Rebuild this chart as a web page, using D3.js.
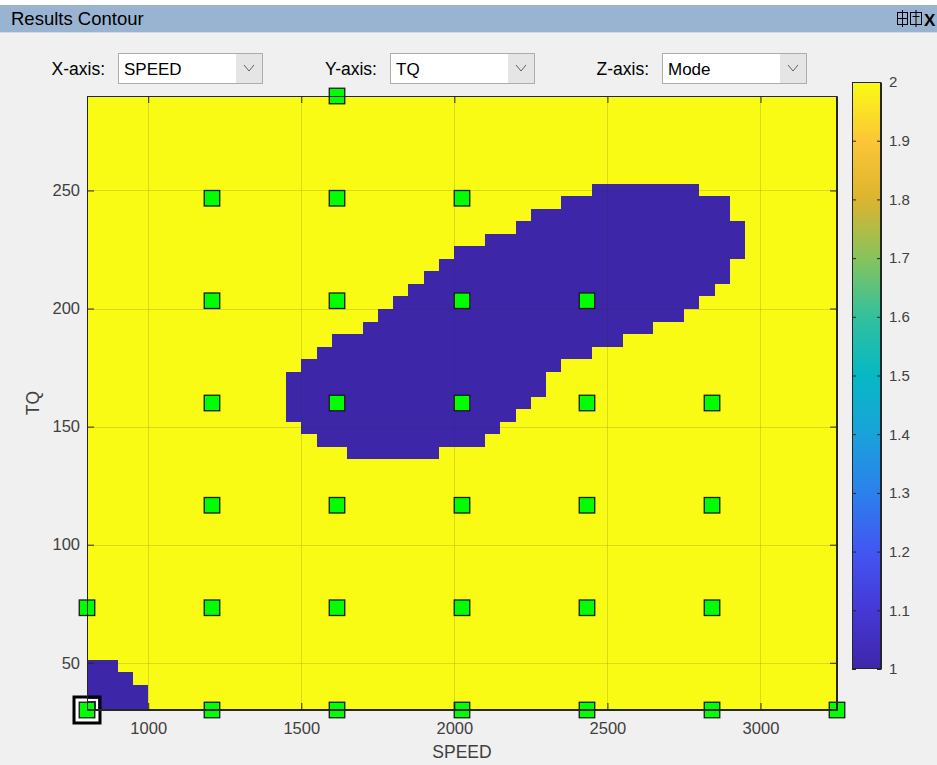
<!DOCTYPE html>
<html>
<head>
<meta charset="utf-8">
<script src="https://cdn.jsdelivr.net/npm/d3@7"></script>
<style>
  body { margin: 0; background: #f0f0f0; }
  svg text { font-family: "Liberation Sans", Arial, sans-serif; }
</style>
</head>
<body>
<svg id="fig" width="937" height="765"></svg>
<script>
// --- data -------------------------------------------------------------
// interpolation grid: 50 x 50 points from (800,30) to (3250,290) -> 49 x 49 cells
var speedRange = [800, 3250];
var tqRange = [30, 290];
var nCells = 49;

// cells where Mode == 1, everything else is Mode == 2
// [column, first row, row after the last one]
var modeOneRuns = [
  [0, 0, 4], [1, 0, 4], [2, 0, 3], [3, 0, 2],
  [13, 23, 27], [14, 22, 28], [15, 21, 29], [16, 21, 30], [17, 20, 30],
  [18, 20, 31], [19, 20, 32], [20, 20, 33], [21, 20, 34], [22, 20, 35],
  [23, 21, 36], [24, 21, 37], [25, 21, 37], [26, 22, 38], [27, 23, 38],
  [28, 24, 39], [29, 25, 40], [30, 27, 40], [31, 28, 41], [32, 28, 41],
  [33, 29, 42], [34, 29, 42], [35, 30, 42], [36, 30, 42], [37, 31, 42],
  [38, 31, 42], [39, 32, 42], [40, 33, 41], [41, 34, 41], [42, 36, 39]
];

// measured test points [SPEED, TQ]
var testPoints = [
  [1616.7, 290],
  [1208.3, 246.7], [1616.7, 246.7], [2025, 246.7],
  [1208.3, 203.3], [1616.7, 203.3], [2025, 203.3], [2433.3, 203.3],
  [1208.3, 160], [1616.7, 160], [2025, 160], [2433.3, 160], [2841.7, 160],
  [1208.3, 116.7], [1616.7, 116.7], [2025, 116.7], [2433.3, 116.7], [2841.7, 116.7],
  [800, 73.3], [1208.3, 73.3], [1616.7, 73.3], [2025, 73.3], [2433.3, 73.3], [2841.7, 73.3],
  [800, 30], [1208.3, 30], [1616.7, 30], [2025, 30], [2433.3, 30], [2841.7, 30], [3250, 30]
];
var selectedPoint = [800, 30];

var xTicks = [1000, 1500, 2000, 2500, 3000];
var yTicks = [50, 100, 150, 200, 250];
var cTicks = [1, 1.1, 1.2, 1.3, 1.4, 1.5, 1.6, 1.7, 1.8, 1.9, 2];
var modeRange = [1, 2];

// parula, sampled along the colorbar
var parula = ["#3e26a8", "#4538d6", "#4256f2", "#2c80ec", "#1aa2da", "#06b8c4",
              "#33c09d", "#86c45c", "#dcb42f", "#fcc637", "#f9fb15"];

var combos = [
  { label: "X-axis:", value: "SPEED" },
  { label: "Y-axis:", value: "TQ" },
  { label: "Z-axis:", value: "Mode" }
];

// --- layout -----------------------------------------------------------
var W = 937, H = 765;
var plot = { left: 87, right: 837, top: 96, bottom: 710 };
var cbar = { left: 852, right: 881, top: 82, bottom: 669 };
var axisCol = "#262626";
var tickFont = 16.5;

var svg = d3.select("#fig");

// window chrome
svg.append("rect").attr("width", W).attr("height", H).attr("fill", "#f0f0f0");
svg.append("rect").attr("width", W).attr("height", 5).attr("fill", "#ffffff");
svg.append("rect").attr("y", 5).attr("width", W).attr("height", 27).attr("fill", "#99b4d1");
svg.append("line").attr("x1", 0).attr("x2", W).attr("y1", 32.5).attr("y2", 32.5)
  .attr("stroke", "#d9d9d9");
svg.append("text").attr("x", 11).attr("y", 25).text("Results Contour")
  .style("font-size", "18.5px").attr("fill", "#000");

// dock / undock / close glyphs
var ic = svg.append("g").attr("fill", "none").attr("stroke", "#000").attr("stroke-width", 1);
ic.append("rect").attr("x", 897.5).attr("y", 12.5).attr("width", 10).attr("height", 12);
ic.append("line").attr("x1", 897.5).attr("x2", 907.5).attr("y1", 18.5).attr("y2", 18.5);
ic.append("line").attr("x1", 902.5).attr("x2", 902.5).attr("y1", 10).attr("y2", 27);
ic.append("rect").attr("x", 910.5).attr("y", 12.5).attr("width", 11).attr("height", 12);
ic.append("line").attr("x1", 916).attr("x2", 916).attr("y1", 10).attr("y2", 27);
ic.append("line").attr("x1", 912.5).attr("x2", 919.5).attr("y1", 16.5).attr("y2", 16.5);
svg.append("text").attr("x", 924).attr("y", 26).text("X")
  .style("font-size", "17px").style("font-weight", "bold").attr("fill", "#000");

// combo boxes
var comboX = [118, 390, 662];
combos.forEach(function (c, i) {
  var g = svg.append("g").attr("transform", "translate(" + comboX[i] + ",53)");
  g.append("text").attr("x", -13).attr("y", 22).attr("text-anchor", "end")
    .text(c.label).style("font-size", "17.5px").attr("fill", "#000");
  g.append("rect").attr("x", 0.5).attr("y", 0.5).attr("width", 144).attr("height", 30)
    .attr("fill", "#ffffff").attr("stroke", "#acacac");
  g.append("rect").attr("x", 118).attr("y", 1).attr("width", 26).attr("height", 29)
    .attr("fill", "#e5e5e5");
  g.append("text").attr("x", 6).attr("y", 22).text(c.value)
    .style("font-size", "17px").attr("fill", "#000");
  g.append("path").attr("d", "M126,12 L131,18 L136,12").attr("fill", "none")
    .attr("stroke", "#606060").attr("stroke-width", 1);
});

// --- scales -----------------------------------------------------------
var x = d3.scaleLinear().domain(speedRange).range([plot.left, plot.right]);
var y = d3.scaleLinear().domain(tqRange).range([plot.bottom, plot.top]);
var colX = d3.scaleLinear().domain([0, nCells]).range(speedRange);
var rowY = d3.scaleLinear().domain([0, nCells]).range(tqRange);
var colour = d3.scaleLinear()
  .domain(d3.range(parula.length).map(function (i) { return modeRange[0] + i / (parula.length - 1); }))
  .range(parula);

// --- field ------------------------------------------------------------
var field = svg.append("g").attr("shape-rendering", "crispEdges");
field.append("rect")
  .attr("x", x(speedRange[0])).attr("y", y(tqRange[1]))
  .attr("width", x(speedRange[1]) - x(speedRange[0]))
  .attr("height", y(tqRange[0]) - y(tqRange[1]))
  .attr("fill", colour(2));
field.selectAll("rect.cell").data(modeOneRuns).enter().append("rect")
  .attr("class", "cell")
  .attr("x", function (d) { return x(colX(d[0])); })
  .attr("width", function (d) { return x(colX(d[0] + 1)) - x(colX(d[0])); })
  .attr("y", function (d) { return y(rowY(d[2])); })
  .attr("height", function (d) { return y(rowY(d[1])) - y(rowY(d[2])); })
  .attr("fill", colour(1));

// --- points -----------------------------------------------------------
var ms = 15.5;
var sel = svg.append("g").attr("fill", "none");
sel.append("rect")
  .attr("x", x(selectedPoint[0]) - 13).attr("y", y(selectedPoint[1]) - 13)
  .attr("width", 26).attr("height", 26).attr("stroke", "#000").attr("stroke-width", 3);
sel.append("rect")
  .attr("x", x(selectedPoint[0]) - 10).attr("y", y(selectedPoint[1]) - 10)
  .attr("width", 20).attr("height", 20).attr("stroke", "#fff").attr("stroke-width", 2);

svg.append("g").selectAll("rect").data(testPoints).enter().append("rect")
  .attr("x", function (d) { return x(d[0]) - ms / 2; })
  .attr("y", function (d) { return y(d[1]) - ms / 2; })
  .attr("width", ms).attr("height", ms)
  .attr("fill", "#00ff00").attr("stroke", "#1a1a1a").attr("stroke-width", 1.3);

// --- grid + axes (drawn on top, like layer top) -----------------------
var gridG = svg.append("g").attr("stroke", axisCol).attr("stroke-opacity", 0.15);
gridG.selectAll("line.gx").data(xTicks).enter().append("line")
  .attr("x1", function (d) { return Math.round(x(d)) + 0.5; })
  .attr("x2", function (d) { return Math.round(x(d)) + 0.5; })
  .attr("y1", plot.top).attr("y2", plot.bottom);
gridG.selectAll("line.gy").data(yTicks).enter().append("line")
  .attr("y1", function (d) { return Math.round(y(d)) + 0.5; })
  .attr("y2", function (d) { return Math.round(y(d)) + 0.5; })
  .attr("x1", plot.left).attr("x2", plot.right);

function styleAxis(g, size) {
  g.selectAll("path").attr("stroke", axisCol);
  g.selectAll("line").attr("stroke", axisCol);
  g.selectAll("text").attr("fill", "#404040").style("font-size", size + "px")
    .style("font-family", "'Liberation Sans', Arial, sans-serif");
}

var tl = 7;
styleAxis(svg.append("g").attr("transform", "translate(0," + plot.bottom + ")")
  .call(d3.axisBottom(x).tickValues(xTicks).tickSize(-tl).tickSizeOuter(0).tickPadding(12)
    .tickFormat(d3.format("d"))), tickFont);
styleAxis(svg.append("g").attr("transform", "translate(0," + plot.top + ")")
  .call(d3.axisTop(x).tickValues(xTicks).tickSize(-tl).tickSizeOuter(0).tickFormat("")), tickFont);
styleAxis(svg.append("g").attr("transform", "translate(" + plot.left + ",0)")
  .call(d3.axisLeft(y).tickValues(yTicks).tickSize(-tl).tickSizeOuter(0).tickPadding(7)
    .tickFormat(d3.format("d"))), tickFont);
styleAxis(svg.append("g").attr("transform", "translate(" + plot.right + ",0)")
  .call(d3.axisRight(y).tickValues(yTicks).tickSize(-tl).tickSizeOuter(0).tickFormat("")), tickFont);

svg.append("text").attr("x", (plot.left + plot.right) / 2).attr("y", 758)
  .attr("text-anchor", "middle").text("SPEED").style("font-size", "17.5px").attr("fill", "#404040");
svg.append("text").attr("transform", "translate(39," + (plot.top + plot.bottom) / 2 + ") rotate(-90)")
  .attr("text-anchor", "middle").text("TQ").style("font-size", "17.5px").attr("fill", "#404040");

// --- colorbar ---------------------------------------------------------
var cy = d3.scaleLinear().domain(modeRange).range([cbar.bottom, cbar.top]);
var grad = svg.append("defs").append("linearGradient").attr("id", "parula")
  .attr("x1", 0).attr("x2", 0).attr("y1", 1).attr("y2", 0);
grad.selectAll("stop").data(parula).enter().append("stop")
  .attr("offset", function (d, i) { return i / (parula.length - 1); })
  .attr("stop-color", function (d) { return d; });
svg.append("rect").attr("x", cbar.left).attr("y", cbar.top)
  .attr("width", cbar.right - cbar.left).attr("height", cbar.bottom - cbar.top)
  .attr("fill", "url(#parula)");
var ct = 4;
styleAxis(svg.append("g").attr("transform", "translate(" + cbar.right + ",0)")
  .call(d3.axisRight(cy).tickValues(cTicks).tickSize(-ct).tickSizeOuter(0).tickPadding(8)
    .tickFormat(d3.format("~g"))), 15);
styleAxis(svg.append("g").attr("transform", "translate(" + cbar.left + ",0)")
  .call(d3.axisLeft(cy).tickValues(cTicks).tickSize(-ct).tickSizeOuter(0).tickFormat("")), 15);
svg.append("rect").attr("x", cbar.left + 0.5).attr("y", cbar.top + 0.5)
  .attr("width", cbar.right - cbar.left - 1).attr("height", cbar.bottom - cbar.top - 1)
  .attr("fill", "none").attr("stroke", axisCol);

// axes box
svg.append("rect").attr("x", plot.left + 0.5).attr("y", plot.top + 0.5)
  .attr("width", plot.right - plot.left - 1).attr("height", plot.bottom - plot.top - 1)
  .attr("fill", "none").attr("stroke", axisCol);
</script>
</body>
</html>
